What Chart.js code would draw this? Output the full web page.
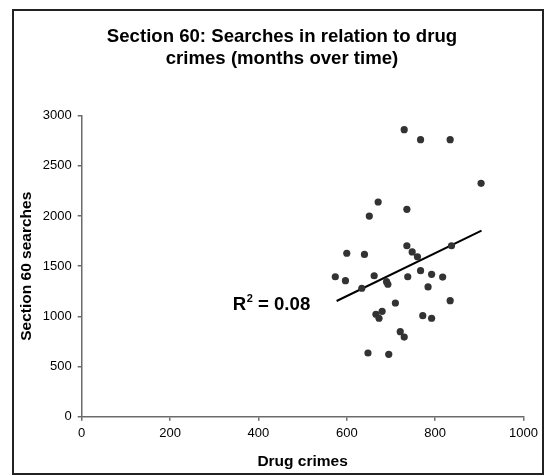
<!DOCTYPE html>
<html>
<head>
<meta charset="utf-8">
<script src="https://cdn.jsdelivr.net/npm/chart.js@4"></script>
<style>
  body { margin: 0; background: #fff; }
  #wrap { position: relative; width: 545px; height: 476px; overflow: hidden; }
  #frame { position: absolute; left: 12px; top: 9px; right: 1px; bottom: 1px; border: 2px solid #222; pointer-events: none; }
</style>
</head>
<body>
<div id="wrap">
  <canvas id="scatterCanvas"></canvas>
  <div id="frame"></div>
</div>
<script>
// drug crimes per month (x) and section 60 searches per month (y)
const drugCrimes = [730,767,834,904,671,651,736,600,640,736,748,760,837,574,597,662,690,693,634,738,767,792,817,784,710,834,666,680,673,772,792,721,730,648,695];
const searches   = [2861,2761,2761,2326,2140,2000,2067,1629,1617,1704,1642,1594,1704,1395,1356,1405,1346,1320,1280,1395,1455,1419,1392,1293,1133,1156,1021,1050,981,1007,981,847,794,635,622];

// trend line end points as drawn
const trendX = [577, 905];
const trendY = [1153, 1854];

const titleLines = ["Section 60: Searches in relation to drug", "crimes (months over time)"];
const rSquaredText = "0.08";
const rSquaredPos = [342, 1063];

const FONT = "Arial, 'Liberation Sans', sans-serif";

const points = drugCrimes.map((v, i) => ({x: v, y: searches[i]}));
const trendPoints = trendX.map((v, i) => ({x: v, y: trendY[i]}));

// two line title, centred a bit left of the plot like the original
const titlePlugin = {
  id: "titlePlugin",
  afterDraw(chart) {
    const ctx = chart.ctx;
    ctx.save();
    ctx.fillStyle = "#000";
    ctx.font = "bold 18.6px " + FONT;
    ctx.textAlign = "center";
    ctx.textBaseline = "alphabetic";
    ctx.fillText(titleLines[0], 282, 42);
    ctx.fillText(titleLines[1], 282, 64);
    ctx.restore();
  }
};

// R squared label placed in data coordinates
const rSquaredPlugin = {
  id: "rSquaredPlugin",
  afterDatasetsDraw(chart) {
    const ctx = chart.ctx;
    let x = chart.scales.x.getPixelForValue(rSquaredPos[0]);
    const y = chart.scales.y.getPixelForValue(rSquaredPos[1]);
    ctx.save();
    ctx.fillStyle = "#000";
    ctx.textBaseline = "alphabetic";
    ctx.textAlign = "left";
    ctx.font = "bold 18.6px " + FONT;
    ctx.fillText("R", x, y);
    x += ctx.measureText("R").width + 0.5;
    ctx.font = "bold 11px " + FONT;
    ctx.fillText("2", x, y - 8);
    x += ctx.measureText("2").width;
    ctx.font = "bold 18.6px " + FONT;
    ctx.fillText(" = " + rSquaredText, x, y);
    ctx.restore();
  }
};

const axisColor = "#6b6b6b";
const plainNumber = (value) => String(value);

new Chart("scatterCanvas", {
  type: "scatter",
  data: {
    datasets: [
      {
        data: points,
        pointRadius: 3.6,
        pointHoverRadius: 3.6,
        backgroundColor: "#333",
        borderColor: "#333",
        borderWidth: 0
      },
      {
        type: "line",
        data: trendPoints,
        borderColor: "#000",
        borderWidth: 2,
        pointRadius: 0,
        fill: false
      }
    ]
  },
  options: {
    responsive: true,
    maintainAspectRatio: false,
    animation: false,
    events: [],
    layout: { padding: { left: 0, right: 21.5, top: 115.7, bottom: 0 } },
    plugins: {
      legend: { display: false },
      tooltip: { enabled: false },
      title: { display: false }
    },
    scales: {
      x: {
        type: "linear",
        min: 0,
        max: 1000,
        afterFit: (scale) => { scale.height = 59.3; },
        ticks: { stepSize: 200, callback: plainNumber, color: "#000", font: { family: FONT, size: 13 }, padding: 5 },
        grid: { drawOnChartArea: false, drawTicks: true, tickLength: 4, color: axisColor, lineWidth: 1.5 },
        border: { color: axisColor, width: 1.5 },
        title: {
          display: true,
          text: "Drug crimes",
          color: "#000",
          font: { family: FONT, size: 15.5, weight: "bold" },
          padding: { top: 0, bottom: 4.5 }
        }
      },
      y: {
        type: "linear",
        min: 0,
        max: 3000,
        afterFit: (scale) => { scale.width = 81.7; },
        ticks: { stepSize: 500, callback: plainNumber, color: "#000", font: { family: FONT, size: 13 }, padding: 6 },
        grid: { drawOnChartArea: false, drawTicks: true, tickLength: 4, color: axisColor, lineWidth: 1.5 },
        border: { color: axisColor, width: 1.5 },
        title: {
          display: true,
          text: "Section 60 searches",
          color: "#000",
          font: { family: FONT, size: 15.5, weight: "bold" },
          padding: { top: 17.7, bottom: 0 }
        }
      }
    }
  },
  plugins: [titlePlugin, rSquaredPlugin]
});
</script>
</body>
</html>
